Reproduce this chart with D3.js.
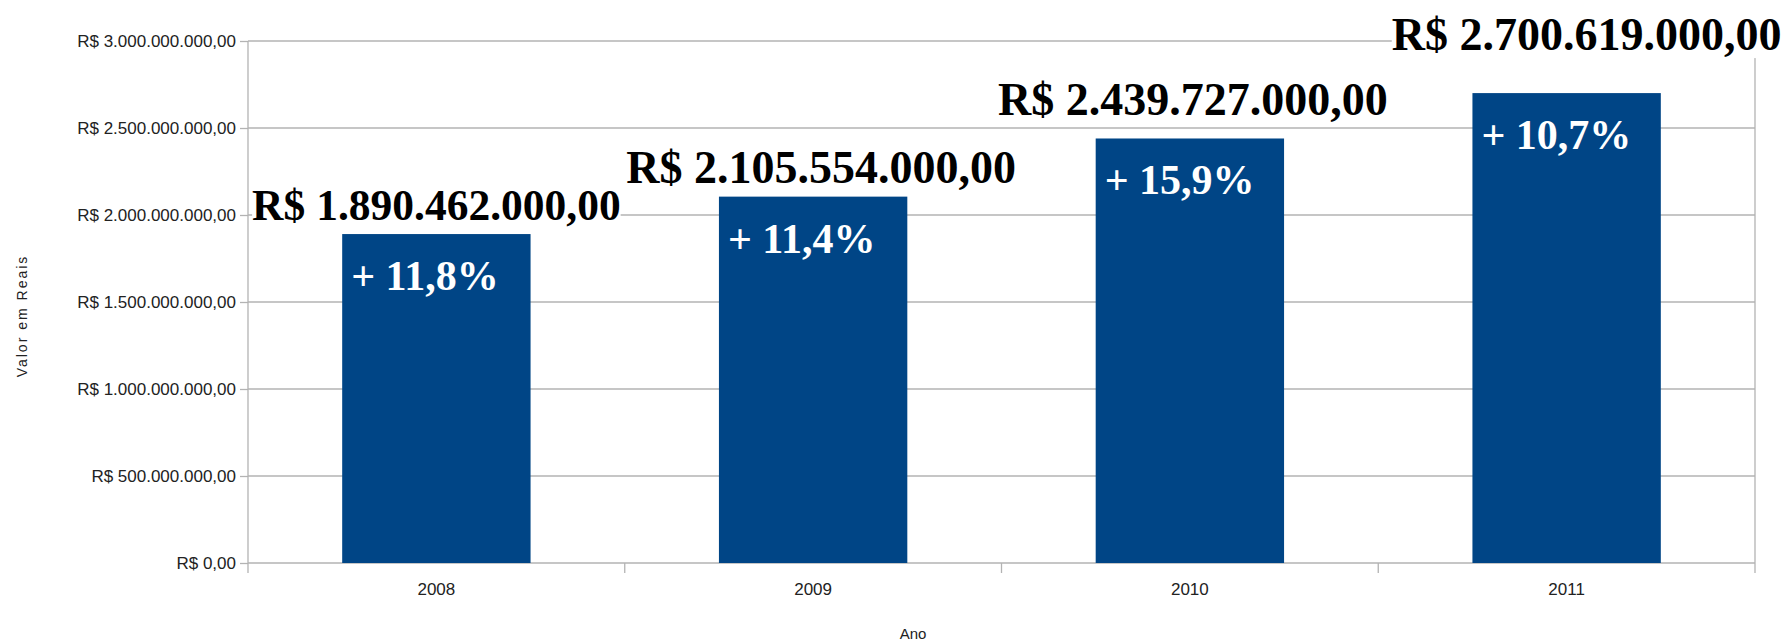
<!DOCTYPE html>
<html>
<head>
<meta charset="utf-8">
<script src="https://cdn.jsdelivr.net/npm/d3@7"></script>
<style>
  body { margin: 0; background: #fff; }
  svg { display: block; }
</style>
</head>
<body>
<div id="chart"></div>
<script>
// dados
var anos = ["2008", "2009", "2010", "2011"];
var valores = [1890462000, 2105554000, 2439727000, 2700619000];
var crescimento = ["+ 11,8%", "+ 11,4%", "+ 15,9%", "+ 10,7%"];
var yTicks = [0, 500000000, 1000000000, 1500000000, 2000000000, 2500000000, 3000000000];

// pequenos ajustes dos rotulos, como estavam no original
var nudgeX = [0, 8, 3, 20];
var nudgeY = [0, 0, -9, -29];
var labelSize = [43.5, 46, 46, 46];

var width = 1789, height = 642;
var pLeft = 248, pRight = 1755, pTop = 41, pBottom = 563;

var br = d3.formatLocale({decimal: ",", thousands: ".", grouping: [3], currency: ["R$ ", ""]});
var fmt = br.format("$,.2f");

var svg = d3.select("#chart").append("svg").attr("width", width).attr("height", height);

var y = d3.scaleLinear().domain([0, 3000000000]).range([pBottom, pTop]);
var x = d3.scaleBand().domain(anos).range([pLeft, pRight]).paddingInner(0.5).paddingOuter(0.25);
var xOuter = d3.scaleBand().domain(anos).range([pLeft, pRight]).padding(0);

var grid = "#b3b3b3";

// linhas de grade
svg.append("g").selectAll("line")
  .data(yTicks)
  .enter().append("line")
    .attr("x1", pLeft).attr("x2", pRight)
    .attr("y1", function(d) { return y(d); })
    .attr("y2", function(d) { return y(d); })
    .attr("stroke", grid).attr("stroke-width", 1.3);

// eixo y
var yAxis = svg.append("g")
  .attr("transform", "translate(" + pLeft + ",0)")
  .call(d3.axisLeft(y).tickValues(yTicks).tickSize(8).tickPadding(4).tickFormat(fmt));
yAxis.select(".domain").remove();
yAxis.selectAll(".tick line").attr("stroke", grid).attr("stroke-width", 1.3);
yAxis.selectAll("text")
  .attr("font-family", "Liberation Sans, Arial, sans-serif")
  .attr("font-size", 17).attr("fill", "#222");

// bordas verticais
svg.append("g").selectAll("line")
  .data([pLeft, pRight])
  .enter().append("line")
    .attr("x1", function(d) { return d; }).attr("x2", function(d) { return d; })
    .attr("y1", pTop).attr("y2", pBottom + 10)
    .attr("stroke", grid).attr("stroke-width", 1.3);

// ticks do eixo x, nas divisas das categorias
svg.append("g").selectAll("line")
  .data(anos.slice(1))
  .enter().append("line")
    .attr("x1", function(d) { return xOuter(d); }).attr("x2", function(d) { return xOuter(d); })
    .attr("y1", pBottom).attr("y2", pBottom + 10)
    .attr("stroke", grid).attr("stroke-width", 1.3);

svg.append("g").selectAll("text")
  .data(anos)
  .enter().append("text")
    .attr("x", function(d) { return xOuter(d) + xOuter.bandwidth() / 2; })
    .attr("y", pBottom + 32)
    .attr("text-anchor", "middle")
    .attr("font-family", "Liberation Sans, Arial, sans-serif")
    .attr("font-size", 17).attr("fill", "#222")
    .text(function(d) { return d; });

// barras
svg.append("g").selectAll("rect")
  .data(valores)
  .enter().append("rect")
    .attr("x", function(d, i) { return x(anos[i]); })
    .attr("y", function(d) { return y(d); })
    .attr("width", x.bandwidth())
    .attr("height", function(d) { return y(0) - y(d); })
    .attr("fill", "#004586");

// rotulos de valor, com fundo branco
var lab = svg.append("g").selectAll("g")
  .data(valores)
  .enter().append("g");

lab.append("text")
  .attr("x", function(d, i) { return x(anos[i]) + x.bandwidth() / 2 + nudgeX[i]; })
  .attr("y", function(d, i) { return y(d) - 14 + nudgeY[i]; })
  .attr("text-anchor", "middle")
  .attr("font-family", "Liberation Serif, Times New Roman, serif")
  .attr("font-weight", "bold")
  .attr("font-size", function(d, i) { return labelSize[i]; }).attr("fill", "#000")
  .text(function(d) { return fmt(d); });

lab.each(function() {
  var g = d3.select(this);
  var b = g.select("text").node().getBBox();
  g.insert("rect", "text")
    .attr("x", b.x).attr("y", b.y + 4)
    .attr("width", b.width).attr("height", b.height - 6)
    .attr("fill", "#fff");
});

// crescimento dentro das barras
svg.append("g").selectAll("text")
  .data(valores)
  .enter().append("text")
    .attr("x", function(d, i) { return x(anos[i]) + 9; })
    .attr("y", function(d) { return y(d) + 56; })
    .attr("font-family", "Liberation Serif, Times New Roman, serif")
    .attr("font-weight", "bold")
    .attr("font-size", 42).attr("fill", "#fff")
    .text(function(d, i) { return crescimento[i]; });

// titulos dos eixos
svg.append("text")
  .attr("transform", "translate(27,316) rotate(-90)")
  .attr("text-anchor", "middle")
  .attr("font-family", "Liberation Sans, Arial, sans-serif")
  .attr("font-size", 14).attr("letter-spacing", 2).attr("fill", "#222")
  .text("Valor em Reais");

svg.append("text")
  .attr("x", 913).attr("y", 639)
  .attr("text-anchor", "middle")
  .attr("font-family", "Liberation Sans, Arial, sans-serif")
  .attr("font-size", 15).attr("fill", "#222")
  .text("Ano");
</script>
</body>
</html>
